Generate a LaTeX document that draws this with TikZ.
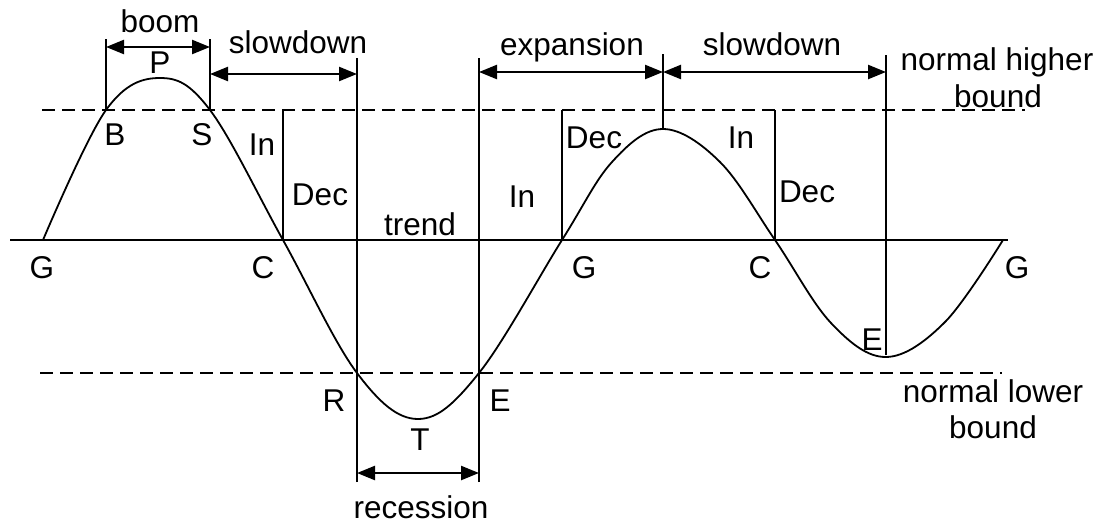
\documentclass[tikz,border=0pt]{standalone}
\usepackage{fontspec}
\setmainfont{Liberation Sans}
\usetikzlibrary{arrows.meta}
\begin{document}
\begin{tikzpicture}[x=1pt,y=-1pt,
  lbl/.style={inner sep=0pt, anchor=base, font=\fontsize{31.5}{36}\selectfont},
  ln/.style={line width=2pt},
  bound/.style={line width=2pt, dash pattern=on 13pt off 7pt},
  curve/.style={line width=1.8pt},
  dim/.style={line width=2.4pt, {Triangle[length=18pt,width=14pt]}-{Triangle[length=18pt,width=14pt]}}]
\useasboundingbox (0,0) rectangle (1100,523);
% key coordinates
\coordinate (G1) at (43,240);
\coordinate (B) at (106,110);
\coordinate (P) at (160,78);
\coordinate (S) at (210,110);
\coordinate (C1) at (283,240);
\coordinate (R) at (357,373);
\coordinate (T) at (418,419);
\coordinate (E) at (479,373);
\coordinate (G2) at (562,240);
\coordinate (P2) at (663,129);
\coordinate (C2) at (775,240);
\coordinate (T2) at (886,357);
\coordinate (G3) at (1003,240);
% trend and bounds
\draw[ln] (10,240) -- (1008,240);
\draw[bound] (42,110) -- (1025,110);
\draw[bound] (40,373) -- (1002,373);
% curve
\draw[curve] plot[smooth, tension=0.6] coordinates {(43,240) (106,110) (160,78) (210,110) (283,240) (357,373) (418,419) (479,373) (562,240) (612,162) (663,129) (720,162) (775,240) (831,323) (886,357) (945,322) (1003,240)};
% vertical lines
\draw[ln] (B) -- (106,39);
\draw[ln] (S) -- (210,39);
\draw[ln] (C1) -- (283,110);
\draw[ln] (357,482) -- (357,58);
\draw[ln] (479,482) -- (479,58);
\draw[ln] (G2) -- (562,110);
\draw[ln] (P2) -- (663,54);
\draw[ln] (C2) -- (775,110);
\draw[ln] (886,355) -- (886,55);
% dimension arrows
\draw[dim] (106,47) -- (210,47);
\draw[dim] (210,74) -- (357,74);
\draw[dim] (479,72) -- (663,72);
\draw[dim] (663,72) -- (886,72);
\draw[dim] (357,473) -- (479,473);
% labels
\node[lbl] (lboom) at (160,32) {boom};
\node[lbl] (lslow1) at (298,53) {slowdown};
\node[lbl] (lexp) at (572,55) {expansion};
\node[lbl] (lslow2) at (772,55) {slowdown};
\node[lbl] (lnh) at (997,70) {normal higher};
\node[lbl] (lnhb) at (998,107) {bound};
\node[lbl] (lnl) at (993,402) {normal lower};
\node[lbl] (lnlb) at (993,438) {bound};
\node[lbl] (lrec) at (421,518) {recession};
\node[lbl] (ltrend) at (420,235) {trend};
\node[lbl] (lin1) at (262,155) {In};
\node[lbl] (ldec1) at (320,205) {Dec};
\node[lbl] (lin2) at (522,207) {In};
\node[lbl] (ldec2) at (594,148) {Dec};
\node[lbl] (lin3) at (741,148) {In};
\node[lbl] (ldec3) at (807,202) {Dec};
\node[lbl] (lP) at (160,73) {P};
\node[lbl] (lB) at (115,145) {B};
\node[lbl] (lS) at (202,145) {S};
\node[lbl] (lG1) at (42,278) {G};
\node[lbl] (lC1) at (263,278) {C};
\node[lbl] (lG2) at (584,278) {G};
\node[lbl] (lC2) at (760,278) {C};
\node[lbl] (lG3) at (1017,278) {G};
\node[lbl] (lR) at (334,411) {R};
\node[lbl] (lE) at (500,411) {E};
\node[lbl] (lT) at (420,450) {T};
\node[lbl] (lE2) at (872,350) {E};
\end{tikzpicture}
\end{document}
